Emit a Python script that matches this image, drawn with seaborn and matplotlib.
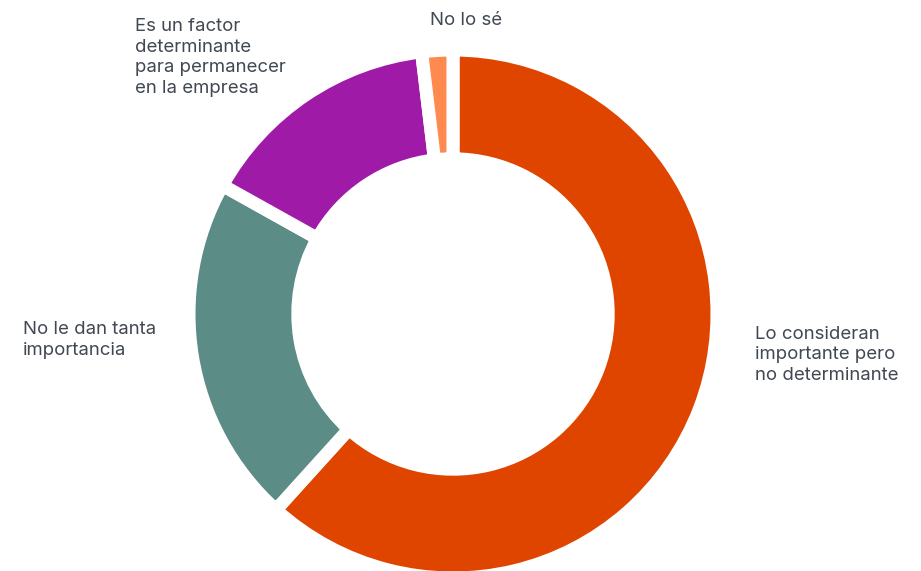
import matplotlib
matplotlib.use("Agg")
import matplotlib.pyplot as plt
import seaborn as sns

# Survey answers and their shares (%), clockwise from 12 o'clock
categories = [
    "Lo consideran\nimportante pero\nno determinante",
    "No le dan tanta\nimportancia",
    "Es un factor\ndeterminante\npara permanecer\nen la empresa",
    "No lo sé",
]
shares = [61.7, 21.4, 15.0, 1.9]
colors = ["#E04500", "#5B8C85", "#A01AA8", "#FF8A50"]

# Label anchors (left edge, last-line baseline) in pixels from top-left
label_pos = [(755, 380), (23, 355), (135, 93), (430, 25)]

sns.set_theme(style="white")
plt.rcParams["font.family"] = ["Inter", "DejaVu Sans"]

W, H = 921, 571
fig = plt.figure(figsize=(W / 100, H / 100), dpi=100)
ax = fig.add_axes([0, 0, 1, 1])

edge_pt = 9.4
edge_px = edge_pt * 100 / 72
r_out = 257.5 + edge_px / 2
r_in = 161.7 - edge_px / 2
ax.pie(
    shares,
    colors=colors,
    startangle=90,
    counterclock=False,
    center=(453.0, H - 314.0),
    radius=r_out,
    wedgeprops=dict(width=r_out - r_in, edgecolor="white", linewidth=edge_pt),
    frame=True,
)
ax.set_xlim(0, W)
ax.set_ylim(0, H)
ax.set_aspect("equal")
ax.axis("off")

for text, (x, y) in zip(categories, label_pos):
    ax.text(x, H - y, text, ha="left", va="baseline", fontsize=13.4,
            color="#404852", linespacing=1.28)

fig.savefig("out.png", dpi=100, facecolor="white")
